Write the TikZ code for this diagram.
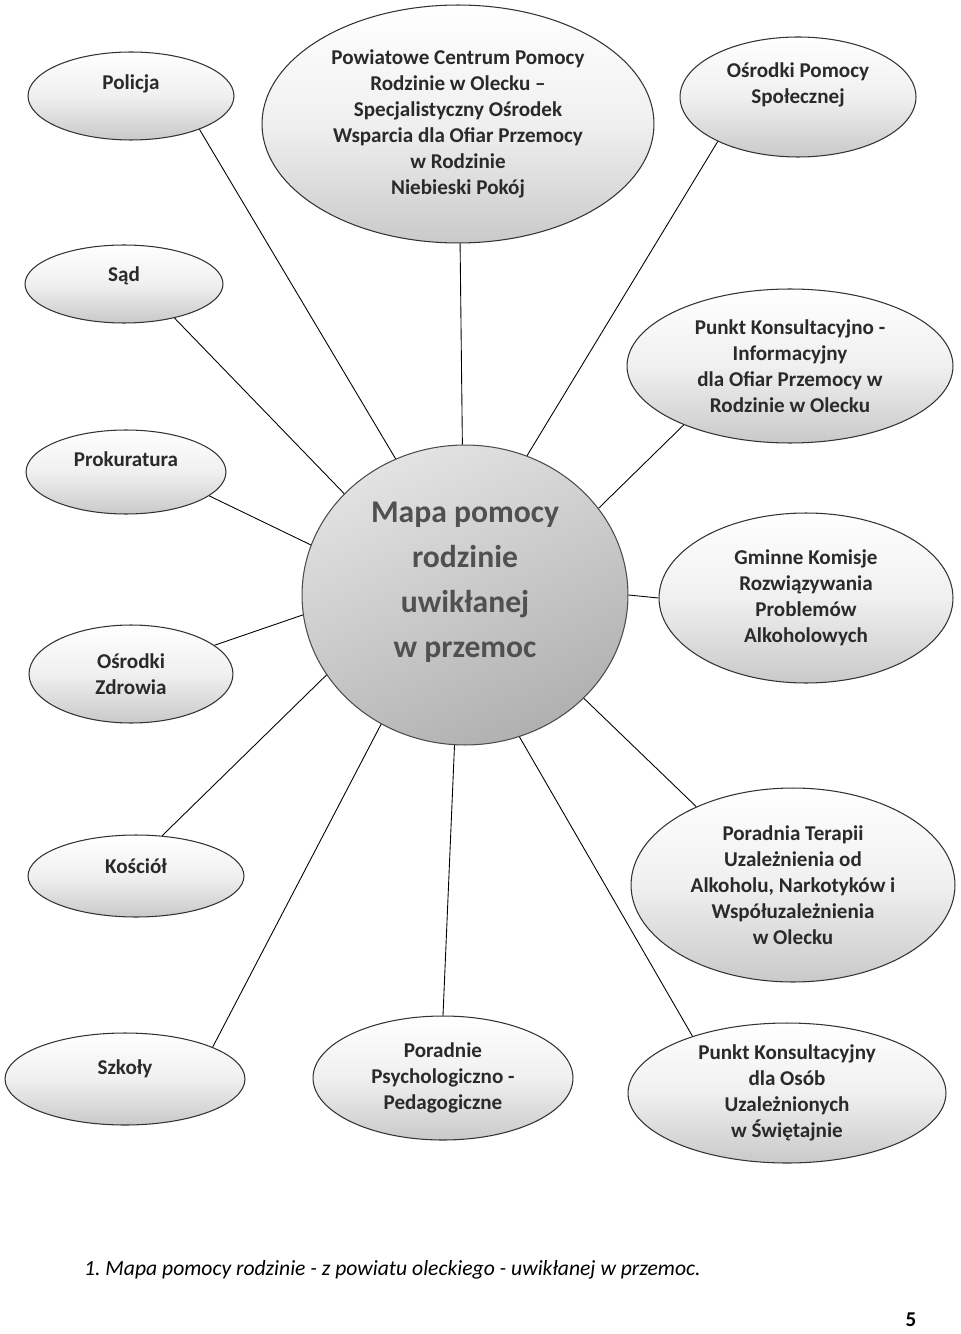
\documentclass[tikz,border=0pt]{standalone}
\usepackage{fontspec}
\setmainfont{Carlito}
\usetikzlibrary{shapes.geometric}
\definecolor{inkgray}{HTML}{2A2A2A}
\definecolor{mapgray}{HTML}{505050}

\begin{document}
\begin{tikzpicture}[x=0.02cm,y=-0.02cm,
 oval/.style={ellipse,draw=black!80,line width=.6pt,inner sep=0pt,top color=white,bottom color=gray!42,middle color=gray!12,align=center,text=inkgray,font=\bfseries\fontsize{12}{14.8}\selectfont},
 lbl/.style={align=center,text=inkgray,font=\bfseries\fontsize{12}{14.8}\selectfont},
 hub/.style={ellipse,draw=black!70,line width=.6pt,inner sep=0pt,top color=gray!22,bottom color=gray!62,shading angle=25},
 hublbl/.style={align=center,text=mapgray,font=\bfseries\fontsize{18}{25.6}\selectfont},
 link/.style={line width=.5pt}]
\useasboundingbox[fill=white] (0,0) rectangle (960,1334);
% centre
\node[hub,minimum width=6.52cm,minimum height=6cm,label={[hublbl,yshift=.26cm]center:Mapa pomocy\\rodzinie\\uwikłanej\\w przemoc}] (map) at (465,595) {};
% left column
\node[oval,minimum width=4.12cm,minimum height=1.76cm,label={[lbl,yshift=.24cm]center:Policja}] (pol) at (131,96) {};
\node[oval,minimum width=3.96cm,minimum height=1.56cm,label={[lbl,yshift=.16cm]center:Sąd}] (sad) at (124,284) {};
\node[oval,minimum width=4cm,minimum height=1.68cm,label={[lbl,yshift=.26cm]center:Prokuratura}] (prok) at (126,472) {};
\node[oval,minimum width=4.08cm,minimum height=1.96cm] (zdr) at (131,674) {Ośrodki\\Zdrowia};
\node[oval,minimum width=4.32cm,minimum height=1.64cm,label={[lbl,yshift=.2cm]center:Kościół}] (kos) at (136,876) {};
\node[oval,minimum width=4.8cm,minimum height=1.84cm,label={[lbl,yshift=.2cm]center:Szkoły}] (szk) at (125,1079) {};
% top and right
\node[oval,minimum width=7.84cm,minimum height=4.76cm] (pcpr) at (458,124) {Powiatowe Centrum Pomocy\\Rodzinie w Olecku –\\Specjalistyczny Ośrodek\\Wsparcia dla Ofiar Przemocy\\w Rodzinie\\Niebieski Pokój};
\node[oval,minimum width=4.72cm,minimum height=2.4cm,label={[lbl,yshift=.24cm]center:Ośrodki Pomocy\\Społecznej}] (ops) at (798,97) {};
\node[oval,minimum width=6.52cm,minimum height=3.08cm] (pki) at (790,366) {Punkt Konsultacyjno -\\Informacyjny\\dla Ofiar Przemocy w\\Rodzinie w Olecku};
\node[oval,minimum width=5.88cm,minimum height=3.4cm] (gkr) at (806,598) {Gminne Komisje\\Rozwiązywania\\Problemów\\Alkoholowych};
\node[oval,minimum width=6.48cm,minimum height=3.88cm] (pt) at (793,885) {Poradnia Terapii\\Uzależnienia od\\Alkoholu, Narkotyków i\\Współuzależnienia\\w Olecku};
% bottom
\node[oval,minimum width=5.2cm,minimum height=2.48cm] (ppp) at (443,1078) {Poradnie\\Psychologiczno -\\Pedagogiczne};
\node[oval,minimum width=6.36cm,minimum height=2.8cm] (pks) at (787,1093) {Punkt Konsultacyjny\\dla Osób\\Uzależnionych\\w Świętajnie};
% spokes
\draw[link] (pol.-26) -- (map.117);
\draw[link] (pcpr.-89) -- (map.91);
\draw[link] (ops.209) -- (map.66);
\draw[link] (sad.-34) -- (map.140);
\draw[link] (pki.209) -- (map.33);
\draw[link] (prok.-16) -- (map.162);
\draw[link] (map.east) -- (gkr.west);
\draw[link] (zdr.19) -- (map.187);
\draw[link] (kos.57) -- (map.210);
\draw[link] (szk.20) -- (map.237);
\draw[link] (ppp.90) -- (map.-94);
\draw[link] (pks.149) -- (map.-69);
\draw[link] (pt.141) -- (map.-41);
% caption
\node[anchor=west,font=\itshape\fontsize{12.3}{14}\selectfont] (cap) at (78,1270) {1.\ Mapa pomocy rodzinie - z powiatu oleckiego - uwikłanej w przemoc.};
\node[font=\bfseries\fontsize{12}{14}\selectfont] (pg) at (911,1320) {5};
\end{tikzpicture}
\end{document}
